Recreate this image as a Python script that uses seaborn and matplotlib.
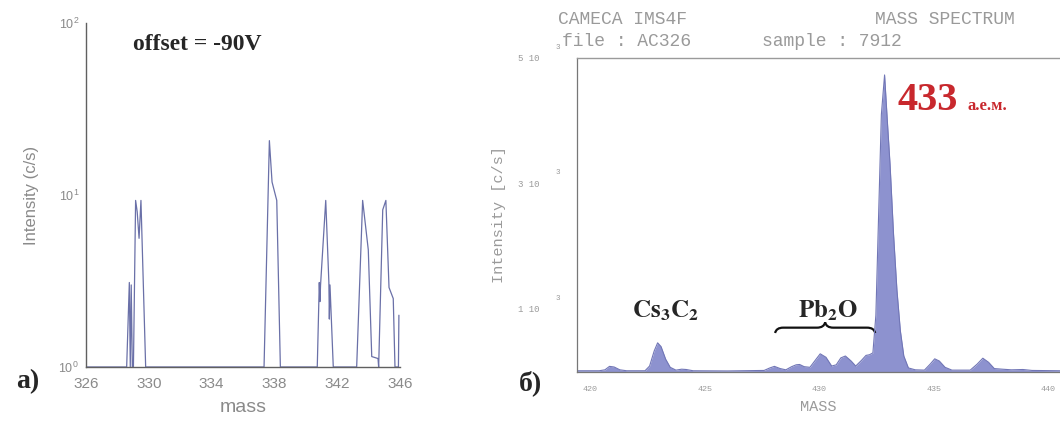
import numpy as np
import pandas as pd
import seaborn as sns
import matplotlib.pyplot as plt
from matplotlib.path import Path
from matplotlib.patches import PathPatch
from matplotlib.ticker import MultipleLocator, LogLocator, FixedLocator

# a) mass scan at offset -90V (log scale)
left_mass = [326.0, 328.59, 328.76, 328.82, 328.88, 328.95, 329.02, 329.16, 329.26, 329.38,
             329.5, 329.8, 337.34, 337.68, 337.85, 338.15, 338.38, 340.73, 340.86, 340.9,
             340.94, 341.27, 341.47, 341.5, 341.54, 341.75, 343.24, 343.62, 343.98, 344.2,
             344.6, 344.64, 344.9, 345.1, 345.3, 345.57, 345.68, 345.9, 345.93]
left_int = [1.0, 1.0, 3.1, 1.0, 3.0, 1.0, 1.0, 9.3, 8.0, 5.6,
            9.3, 1.0, 1.0, 20.7, 11.9, 9.3, 1.0, 1.0, 3.1, 2.4,
            3.0, 9.3, 3.1, 1.9, 3.0, 1.0, 1.0, 9.3, 4.8, 1.15,
            1.12, 1.0, 8.2, 9.3, 2.9, 2.5, 1.0, 1.0, 2.0]
left_ticks = [326, 330, 334, 338, 342, 346]

# б) CAMECA IMS4F mass spectrum
right_mass = [419.45, 420.4, 420.65, 420.85, 421.05, 421.3, 421.6, 422.4, 422.6, 422.8,
              422.95, 423.1, 423.3, 423.5, 423.75, 424.0, 424.2, 424.5, 426.0, 427.6,
              427.85, 428.05, 428.3, 428.55, 428.8, 429.0, 429.15, 429.35, 429.6, 429.85,
              430.05, 430.3, 430.55, 430.75, 430.95, 431.15, 431.4, 431.6, 431.85, 432.05,
              432.2, 432.35, 432.48, 432.6, 432.72, 432.86, 432.98, 433.1, 433.25, 433.4,
              433.55, 433.7, 433.9, 434.2, 434.6, 434.85, 435.05, 435.25, 435.5, 435.8,
              436.6, 436.9, 437.15, 437.4, 437.65, 438.0, 438.4, 438.9, 439.3, 440.52]
right_int = [15, 15, 30, 85, 75, 30, 15, 15, 90, 330,
             460, 400, 200, 70, 25, 40, 35, 15, 12, 20,
             60, 85, 50, 30, 80, 110, 115, 80, 70, 190,
             285, 230, 90, 110, 220, 250, 170, 90, 180, 260,
             270, 300, 900, 2500, 4100, 4730, 4000, 3300, 2200, 1300,
             650, 250, 60, 30, 25, 120, 205, 170, 70, 25,
             25, 120, 215, 150, 50, 40, 30, 35, 20, 15]
right_yticks = [1000, 3000, 5000]
right_ylabels = ['1 10', '3 10', '5 10']

left_df = pd.DataFrame({'mass': left_mass, 'intensity': left_int})
right_df = pd.DataFrame({'mass': right_mass, 'intensity': right_int})

sns.set_style('white')
plt.rcParams['font.family'] = ['Liberation Sans', 'DejaVu Sans']
plt.rcParams['mathtext.fontset'] = 'stix'

W, H = 1060, 421
fig = plt.figure(figsize=(W / 100, H / 100), dpi=100)

def box(x0, y0, x1, y1):
    # pixel box (top-left origin) -> figure fraction
    return [x0 / W, 1 - y1 / H, (x1 - x0) / W, (y1 - y0) / H]

grey = '#8a8a8a'

# ---- left panel ----
ax1 = fig.add_axes(box(86, 23, 400, 367))
sns.lineplot(data=left_df, x='mass', y='intensity', ax=ax1, color='#6a70a8',
             lw=0.9, sort=False, estimator=None)
ax1.set_yscale('log')
ax1.set_xlim(326, 346)
ax1.set_ylim(1, 100)
ax1.xaxis.set_major_locator(FixedLocator(left_ticks))
ax1.xaxis.set_minor_locator(MultipleLocator(1))
ax1.yaxis.set_major_locator(LogLocator(base=10))
ax1.yaxis.set_minor_locator(LogLocator(base=10, subs=np.arange(2, 10)))
ax1.tick_params(axis='x', which='both', direction='inout', length=6, width=0.9,
                colors='#606060', labelcolor=grey, labelsize=11, pad=4)
ax1.tick_params(axis='y', which='major', direction='out', length=4, width=0.9,
                colors='#606060', labelcolor=grey, labelsize=9, pad=1)
ax1.tick_params(axis='y', which='minor', direction='out', length=3, width=0.8,
                colors='#606060')
for s in ['top', 'right']:
    ax1.spines[s].set_visible(False)
for s in ['left', 'bottom']:
    ax1.spines[s].set_color('#606060')
    ax1.spines[s].set_linewidth(1.0)
ax1.set_xlabel('mass', color=grey, fontsize=14, labelpad=6)
ax1.set_ylabel('Intensity (c/s)', color=grey, fontsize=12, labelpad=14)
fig.text(197 / W, 1 - 45 / H, 'offset = -90V', ha='center', va='center',
         fontsize=17, fontweight='bold', family='Liberation Serif')
fig.text(28 / W, 1 - 382 / H, 'a)', ha='center', va='center',
         fontsize=20, fontweight='bold', family='Liberation Serif')

# ---- right panel ----
ax2 = fig.add_axes(box(577, 58, 1060, 371.7))
ax2.fill_between(right_df['mass'], right_df['intensity'], color='#8d92cf', lw=0)
sns.lineplot(data=right_df, x='mass', y='intensity', ax=ax2, color='#7176b6',
             lw=0.8, sort=False, estimator=None)
ax2.set_xlim(419.43, 440.52)
ax2.set_ylim(0, 5000)
ax2.xaxis.set_major_locator(MultipleLocator(5))
ax2.xaxis.set_minor_locator(MultipleLocator(1))
ax2.yaxis.set_major_locator(FixedLocator(right_yticks))
ax2.yaxis.set_minor_locator(FixedLocator([0, 2000, 4000]))
ax2.set_yticklabels(right_ylabels)
mono = ['Liberation Mono', 'DejaVu Sans Mono']
for lab in ax2.get_xticklabels() + ax2.get_yticklabels():
    lab.set_family(mono)
ax2.tick_params(axis='x', which='major', direction='out', length=7, width=0.8,
                colors='#777777', labelcolor='#9a9a9a', labelsize=6, pad=3)
ax2.tick_params(axis='x', which='minor', direction='out', length=5, width=0.8,
                colors='#777777')
ax2.tick_params(axis='y', which='both', direction='out', length=4, width=0.8,
                colors='#777777', labelcolor='#9a9a9a', labelsize=6.5, pad=23)
for yv in right_yticks:
    ax2.text(-0.04, yv + 170, '3', transform=ax2.get_yaxis_transform(),
             ha='center', va='center', fontsize=5.5, color='#9a9a9a', family=mono)
ax2.spines['right'].set_visible(False)
for s in ['left', 'bottom']:
    ax2.spines[s].set_color('#777777')
    ax2.spines[s].set_linewidth(0.9)
ax2.spines['top'].set_color('#9a9a9a')
ax2.spines['top'].set_linewidth(1.0)
ax2.set_xlabel('MASS', color='#9a9a9a', fontsize=11, family=mono, labelpad=5)
ax2.set_ylabel('Intensity [c/s]', color='#9a9a9a', fontsize=11, family=mono, labelpad=9)

# header
hdr = dict(fontsize=13, color='#9a9a9a', family=mono, va='center', ha='left')
fig.text(558 / W, 1 - 20 / H, 'CAMECA IMS4F', **hdr)
fig.text(875 / W, 1 - 20 / H, 'MASS SPECTRUM', **hdr)
fig.text(562 / W, 1 - 42 / H, 'file : AC326', **hdr)
fig.text(762 / W, 1 - 42 / H, 'sample : 7912', **hdr)

# annotations
ax2.text(433.41, 4174, '433', color='#c8282d', fontsize=29, fontweight='bold',
         family='Liberation Serif', va='baseline', ha='left')
ax2.text(436.46, 4174, 'а.е.м.', color='#c8282d', fontsize=12, fontweight='bold',
         family='Liberation Serif', va='baseline', ha='left')
ax2.text(423.28, 871, r'$\mathbf{Cs_3C_2}$', fontsize=18, ha='center', va='baseline')
ax2.text(430.39, 871, r'$\mathbf{Pb_2O}$', fontsize=18, ha='center', va='baseline')

# curly brace under Pb2O
x0, x1, yb, h, q = 428.08, 432.45, 617, 170, 0.35
xm = (x0 + x1) / 2
verts = [(x0, yb), (x0 + 0.05, yb + h / 2), (x0 + q, yb + h / 2), (xm - q, yb + h / 2),
         (xm - 0.05, yb + h / 2), (xm, yb + h), (xm + 0.05, yb + h / 2), (xm + q, yb + h / 2),
         (x1 - q, yb + h / 2), (x1 - 0.05, yb + h / 2), (x1, yb)]
codes = [Path.MOVETO, Path.CURVE3, Path.CURVE3, Path.LINETO, Path.CURVE3, Path.CURVE3,
         Path.CURVE3, Path.CURVE3, Path.LINETO, Path.CURVE3, Path.CURVE3]
ax2.add_patch(PathPatch(Path(verts, codes), fill=False, lw=1.6, color='#111111'))

fig.text(530 / W, 1 - 383 / H, 'б)', ha='center', va='center',
         fontsize=20, fontweight='bold', family='Liberation Serif')

plt.savefig('out.png', dpi=100)
